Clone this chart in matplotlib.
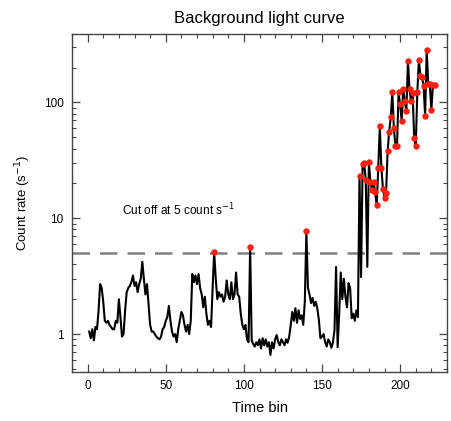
import numpy as np
import matplotlib
matplotlib.use("Agg")
import matplotlib.pyplot as plt
from matplotlib.ticker import LogLocator, MultipleLocator, FixedLocator, NullFormatter

plt.rcParams['font.family'] = ['Liberation Sans', 'DejaVu Sans']

# Count rate per time bin (bins 1..222)
low_rates = [
    1.05, 0.92, 1.10, 0.88, 1.15, 1.10, 1.60, 2.70, 2.50, 1.90,   # 1-10
    1.30, 1.25, 1.30, 1.20, 1.15, 1.10, 1.10, 1.30, 1.25, 2.00,   # 11-20
    1.40, 0.95, 1.00, 1.60, 2.30, 2.50, 2.60, 2.80, 3.20, 2.60,   # 21-30
    2.80, 2.30, 2.70, 3.00, 4.20, 3.00, 2.20, 2.70, 1.80, 1.20,   # 31-40
    1.05, 1.05, 1.00, 0.95, 0.92, 0.90, 0.95, 1.10, 1.15, 1.30,   # 41-50
    1.40, 1.75, 1.30, 1.05, 0.95, 1.00, 0.85, 1.10, 1.30, 1.55,   # 51-60
    1.45, 1.20, 1.05, 1.20, 1.00, 1.30, 3.30, 2.80, 3.20, 2.70,   # 61-70
    3.30, 2.50, 2.20, 1.70, 2.10, 1.50, 1.20, 1.30, 1.15, 2.50,   # 71-80
    5.10, 3.00, 2.00, 2.30, 2.10, 2.20, 1.90, 2.10, 2.90, 2.20,   # 81-90
    2.00, 2.80, 2.00, 2.20, 3.40, 2.20, 2.10, 1.50, 1.20, 1.10,   # 91-100
    1.20, 0.90, 0.85, 5.60, 0.88, 0.82, 0.78, 0.85, 0.80, 0.90,   # 101-110
    0.75, 0.92, 0.80, 0.90, 0.78, 0.85, 0.66, 0.85, 0.75, 0.90,   # 111-120
    0.98, 0.85, 0.80, 0.90, 0.85, 0.80, 0.90, 0.84, 0.95, 1.20,   # 121-130
    1.55, 1.30, 1.67, 1.25, 1.60, 1.35, 1.45, 1.20, 1.90, 7.70,   # 131-140
    2.50, 2.20, 1.85, 2.05, 1.75, 1.90, 1.67, 1.32, 0.92, 0.95,   # 141-150
    1.00, 0.85, 0.78, 0.90, 0.85, 0.76, 0.85, 1.08, 3.80, 0.77,   # 151-160
    1.50, 3.40, 2.00, 3.00, 2.10, 1.70, 2.75, 2.50, 1.37, 1.50,   # 161-170
    1.30, 1.60, 1.40,                                             # 171-173
]
high_rates = [
    23.0, 3.1, 29.6, 29.8, 21.3, 3.8, 30.6, 20.5, 17.5, 20.5,     # 174-183
    17.0, 12.9, 27.3, 62.0, 27.3, 18.0, 15.0, 16.6, 38.0, 56.0,   # 184-193
    75.0, 123.0, 60.0, 42.0, 42.0, 122.0, 97.0, 69.0, 131.0, 102.0,  # 194-203
    84.0, 230.0, 131.0, 102.0, 121.0, 49.0, 42.0, 122.0, 232.0, 170.0,  # 204-213
    165.0, 140.0, 77.0, 284.0, 144.0, 144.0, 86.0, 142.0, 142.0,  # 214-222
]
rates = np.array(low_rates + high_rates)
time_bins = np.arange(1, len(rates) + 1)
cutoff = 5.0

fig = plt.figure(figsize=(4.51, 4.21), dpi=100)
ax = fig.add_axes([72/451, 1 - 372/421, 375/451, 338/421])

ax.plot(time_bins, rates, color='black', lw=1.5, zorder=3)
above = rates > cutoff
ax.plot(time_bins[above], rates[above], 'o', color='#ff2010', ms=3.6,
        mec='#ff2010', zorder=4)
ax.axhline(cutoff, color='#808080', lw=1.8, dashes=(7, 4), zorder=2)

ax.set_yscale('log')
ax.set_xlim(-10, 230)
ax.set_ylim(0.47, 390)

ax.xaxis.set_major_locator(MultipleLocator(50))
ax.xaxis.set_minor_locator(MultipleLocator(10))
ax.yaxis.set_major_locator(FixedLocator([1, 10, 100]))
ax.yaxis.set_minor_locator(LogLocator(base=10, subs=np.arange(2, 10)))
ax.yaxis.set_minor_formatter(NullFormatter())
ax.set_yticklabels(['1', '10', '100'])

ax.tick_params(which='both', direction='in', top=True, right=True,
               color='#444444', labelsize=8.5, pad=6)
ax.tick_params(which='major', length=6, width=0.9)
ax.tick_params(which='minor', length=3, width=0.8)
for s in ax.spines.values():
    s.set_color('#444444')
    s.set_linewidth(1.0)

ax.set_title('Background light curve', fontsize=12, pad=8)
ax.set_xlabel('Time bin', fontsize=10.5, labelpad=6)
ax.set_ylabel('Count rate (s$^{-1}$)', fontsize=9.5, labelpad=8)
ax.text(22, 11.7, 'Cut off at 5 count s$^{-1}$', fontsize=8.6, ha='left', va='center')

fig.savefig('out.png', dpi=100)
